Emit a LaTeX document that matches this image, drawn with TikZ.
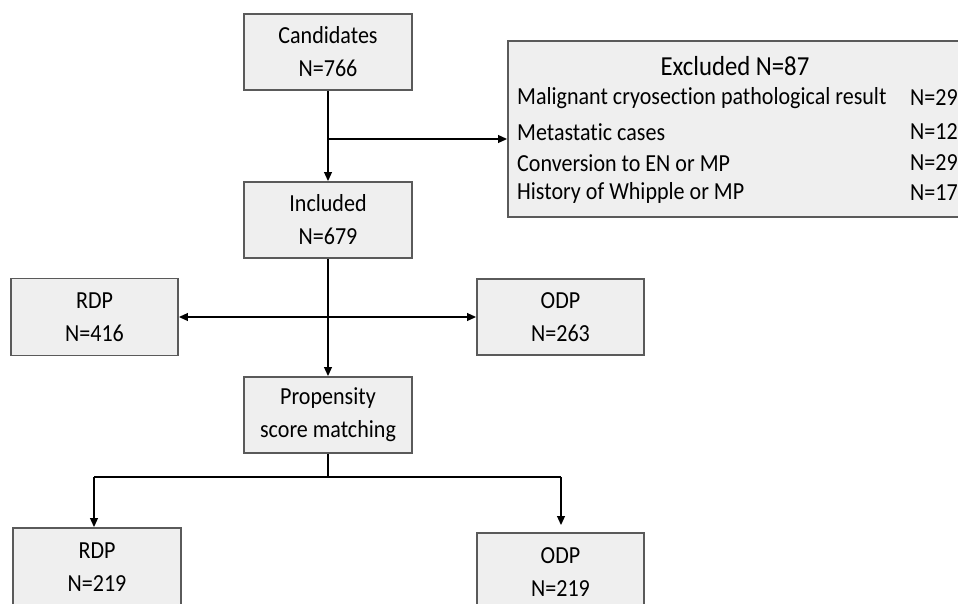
\documentclass[tikz,border=0pt]{standalone}
\usepackage{fontspec}
\setmainfont{Carlito}[Ligatures=NoCommon, FakeStretch=0.9]
\usetikzlibrary{arrows.meta}
\definecolor{boxfill}{HTML}{EFEFEF}
\definecolor{boxline}{HTML}{5A5A5A}
\tikzset{
  box/.style={draw=boxline, line width=1.6pt, fill=boxfill, align=center,
    inner sep=0pt, font=\fontsize{24.5}{33}\selectfont},
  conn/.style={line width=2pt, draw=black},
  arr/.style={conn, -{Triangle[length=9pt,width=7.5pt]}},
  item/.style={anchor=west, inner sep=0pt, font=\fontsize{24.5}{27}\selectfont},
}
\begin{document}
\begin{tikzpicture}[x=1pt,y=-1pt]
\useasboundingbox (0,0) rectangle (958,603);
\fill[white] (0,0) rectangle (958,603);
% boxes
\node[box, minimum width=168pt, minimum height=76pt] (cand) at (328,52) {Candidates\\N=766};
\node[box, minimum width=168pt, minimum height=76pt] (incl) at (328,220) {Included\\N=679};
\node[box, minimum width=167pt, minimum height=77pt] (rdp1) at (94.5,317) {RDP\\N=416};
\node[box, minimum width=167pt, minimum height=76pt] (odp1) at (560.5,317) {ODP\\N=263};
\node[box, minimum width=168pt, minimum height=76pt] (psm) at (328,415) {Propensity\\score matching};
\node[box, minimum width=168pt, minimum height=78pt] (rdp2) at (97,567) {RDP\\N=219};
\node[box, minimum width=167pt, minimum height=78pt] (odp2) at (560.5,572) {ODP\\N=219};
% excluded box
\node[box, minimum width=460pt, minimum height=176pt] (excl) at (738,129) {};
\node[inner sep=0pt, font=\fontsize{27.5}{30}\selectfont] (exT) at (735,66) {Excluded N=87};
\node[item] (ex1) at (517,98) {Malignant cryosection pathological result};
\node[item] (ex2) at (517,132) {Metastatic cases};
\node[item] (ex3) at (517,163) {Conversion to EN or MP};
\node[item] (ex4) at (517,193) {History of Whipple or MP};
\node[item] (n1) at (910,98) {N=29};
\node[item] (n2) at (910,132) {N=12};
\node[item] (n3) at (910,163) {N=29};
\node[item] (n4) at (910,193) {N=17};
% connectors
\coordinate (b1) at (328,139);
\coordinate (b2) at (328,317);
\coordinate (b3) at (328,477);
\coordinate (b3l) at (94,477);
\coordinate (b3r) at (561,477);
\draw[arr] (cand.south) -- (incl.north);
\draw[arr] (b1) -- (b1 -| excl.west);
\draw[arr] (incl.south) -- (psm.north);
\draw[arr] (b2) -- (rdp1.east);
\draw[arr] (b2) -- (odp1.west);
\draw[conn] (psm.south) -- (b3);
\draw[conn] (b3l) -- (b3r);
\draw[arr] (b3l) -- (b3l |- rdp2.north);
\draw[arr, shorten >=7pt] (b3r) -- (b3r |- odp2.north);
\end{tikzpicture}
\end{document}
